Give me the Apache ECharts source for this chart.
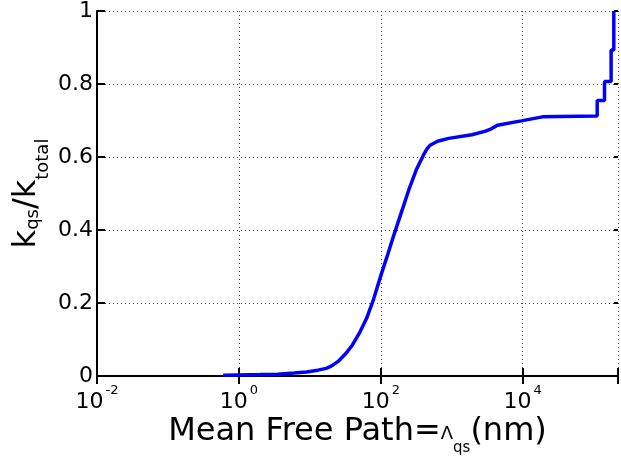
<!DOCTYPE html>
<html>
<head>
<meta charset="utf-8">
<script src="https://cdn.jsdelivr.net/npm/echarts@6/dist/echarts.min.js"></script>
<style>
  html, body { margin: 0; padding: 0; background: #fff; }
  #chart { width: 621px; height: 461px; }
</style>
</head>
<body>
<div id="chart"></div>
<script>
// mean free path (nm) and cumulative fraction k_qs/k_total
var mfp = [0.6, 1, 2, 3.5, 6, 9, 13, 17, 20, 25, 31.6, 39.8, 50, 63, 79, 100, 126, 158,
  200, 251, 316, 398, 447, 501, 631, 906, 1920, 3000, 3660, 4400, 9500, 19000,
  112000, 112000, 142000, 142000, 176000, 176000, 192000, 192000];
var frac = [0.002, 0.003, 0.004, 0.005, 0.008, 0.011, 0.016, 0.021, 0.027, 0.04, 0.06, 0.085, 0.118, 0.158, 0.21, 0.275, 0.335, 0.395,
  0.455, 0.513, 0.565, 0.605, 0.622, 0.633, 0.643, 0.651, 0.661, 0.671, 0.678, 0.687, 0.699, 0.71,
  0.712, 0.755, 0.755, 0.807, 0.807, 0.893, 0.893, 1.0];

var xMin = 0.01, xMax = 2.2e5;

var font = "DejaVu Sans";
var myChart = echarts.init(document.getElementById("chart"));

var points = [];
for (var i = 0; i < mfp.length; i++) {
  points.push([mfp[i], frac[i]]);
}

function expLabel(v) {
  var e = Math.log10(v);
  if (Math.abs(e - Math.round(e)) > 1e-6) return "";
  return "{b|10}{s|" + Math.round(e) + "}";
}

var gridLine = { show: true, lineStyle: { color: "#444", type: [1, 3], width: 1 } };

var option = {
  backgroundColor: "#fff",
  animation: false,
  grid: { left: 97, right: 0, top: 7, bottom: 85 },
  xAxis: [
    {
      type: "log",
      logBase: 100,
      min: xMin,
      max: xMax,
      position: "bottom",
      axisLine: { lineStyle: { color: "#000", width: 2 } },
      axisTick: { inside: true, length: 8, lineStyle: { color: "#000", width: 2 } },
      minorTick: { show: false },
      splitLine: gridLine,
      axisLabel: {
        margin: 6,
        color: "#000",
        fontFamily: font,
        formatter: expLabel,
        rich: {
          b: { fontSize: 22, fontFamily: font, lineHeight: 40, color: "#000" },
          s: { fontSize: 13, fontFamily: font, height: 17, verticalAlign: "top", padding: [0, 0, 0, 2], color: "#000" }
        }
      },
      name: "{m|Mean Free Path=}{l|Λ}{q|qs}{m|(nm)}",
      nameLocation: "middle",
      nameGap: 31,
      nameMoveOverlap: false,
      nameTextStyle: {
        rich: {
          m: { fontSize: 32, fontFamily: font, lineHeight: 50, color: "#000" },
          l: { fontSize: 18, fontFamily: font, height: 46, verticalAlign: "bottom", color: "#000" },
          q: { fontSize: 15, fontFamily: font, height: 17, verticalAlign: "bottom", color: "#000" }
        }
      }
    },
    {
      type: "log",
      logBase: 100,
      min: xMin,
      max: xMax,
      position: "top",
      axisLine: { lineStyle: { color: "#000", width: 2 } },
      axisTick: { inside: true, length: 8, lineStyle: { color: "#000", width: 2 } },
      axisLabel: { show: false },
      splitLine: { show: false }
    }
  ],
  yAxis: [
    {
      type: "value",
      min: 0,
      max: 1,
      interval: 0.2,
      position: "left",
      axisLine: { show: true, lineStyle: { color: "#000", width: 2 } },
      axisTick: { show: true, inside: true, length: 8, lineStyle: { color: "#000", width: 2 } },
      splitLine: gridLine,
      axisLabel: { margin: 4, fontSize: 22, fontFamily: font, color: "#000" },
      name: "{m|k}{q|qs}{m|/k}{t|total}",
      nameLocation: "middle",
      nameRotate: 90,
      nameGap: 46,
      nameMoveOverlap: false,
      nameTextStyle: {
        rich: {
          m: { fontSize: 32, fontFamily: font, lineHeight: 48, color: "#000" },
          q: { fontSize: 18, fontFamily: font, height: 36, verticalAlign: "bottom", color: "#000" },
          t: { fontSize: 18, fontFamily: font, height: 15, verticalAlign: "bottom", color: "#000" }
        }
      }
    },
    {
      type: "value",
      min: 0,
      max: 1,
      interval: 0.2,
      position: "right",
      axisLine: { show: false },
      axisTick: { show: true, inside: true, length: 4, lineStyle: { color: "#000", width: 2 } },
      axisLabel: { show: false },
      splitLine: { show: false }
    }
  ],
  series: [
    {
      type: "line",
      data: points,
      showSymbol: false,
      symbol: "none",
      lineStyle: { color: "#0000ff", width: 3.5 },
      itemStyle: { color: "#0000ff" }
    }
  ]
};

myChart.setOption(option);
window.addEventListener("resize", function () {
  myChart.resize();
});
</script>
</body>
</html>
